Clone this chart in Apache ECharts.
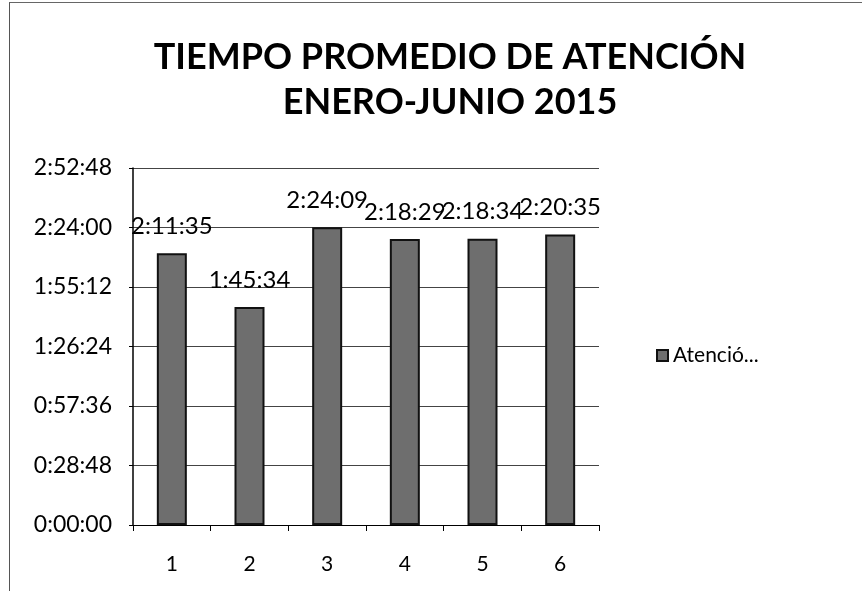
<!DOCTYPE html>
<html>
<head>
<meta charset="utf-8">
<script src="https://cdn.jsdelivr.net/npm/echarts@6/dist/echarts.min.js"></script>
<style>
  html, body { margin: 0; padding: 0; background: #fff; }
  #chart { width: 862px; height: 592px; }
  #frame {
    position: absolute; left: 9px; top: 2px; width: 860px; height: 588px;
    border-left: 1px solid #555; border-top: 1px solid #666;
    pointer-events: none;
  }
</style>
</head>
<body>
<div id="chart"></div>
<div id="frame"></div>
<script>
// meses 1..6, tiempo promedio en segundos
const categories = ["1", "2", "3", "4", "5", "6"];
const tiempos = [7895, 6334, 8649, 8309, 8314, 8435]; // 2:11:35, 1:45:34, 2:24:09, 2:18:29, 2:18:34, 2:20:35
const yMax = 10368; // 2:52:48
const yStep = 1728; // 0:28:48

function hms(sec) {
  const h = Math.floor(sec / 3600);
  const m = Math.floor((sec % 3600) / 60);
  const s = Math.round(sec % 60);
  return h + ":" + String(m).padStart(2, "0") + ":" + String(s).padStart(2, "0");
}

const chart = echarts.init(document.getElementById("chart"), null, { renderer: "canvas" });
chart.setOption({
  animation: false,
  textStyle: { fontFamily: "Lato, 'Open Sans', sans-serif", color: "#000" },
  title: {
    text: "TIEMPO PROMEDIO DE ATENCIÓN\nENERO-JUNIO 2015",
    left: 445,
    textAlign: "center",
    top: 30,
    textStyle: {
      fontFamily: "Lato, 'Open Sans', sans-serif",
      fontSize: 36,
      fontWeight: "bold",
      color: "#000",
      lineHeight: 45,
    },
  },
  legend: {
    data: ["Atención"],
    left: 651,
    top: 340,
    itemWidth: 11,
    itemHeight: 11,
    itemGap: 4,
    icon: "rect",
    formatter: () => "Atenció...",
    textStyle: { fontSize: 21, color: "#000" },
  },
  grid: { left: 133, right: 263, top: 168, bottom: 67 },
  xAxis: {
    type: "category",
    data: categories,
    axisLine: { lineStyle: { color: "#000", width: 1 } },
    axisTick: { show: true, length: 6, lineStyle: { color: "#000" } },
    axisLabel: { fontSize: 21, color: "#000", margin: 29 },
  },
  yAxis: {
    type: "value",
    min: 0,
    max: yMax,
    interval: yStep,
    axisLine: { show: true, lineStyle: { color: "#000", width: 1.5 } },
    axisTick: { show: true, length: 4, lineStyle: { color: "#000" } },
    axisLabel: { fontSize: 23, color: "#000", margin: 21, formatter: (v) => hms(v) },
    splitLine: { lineStyle: { color: "#444", width: 1 } },
  },
  series: [
    {
      name: "Atención",
      type: "bar",
      data: tiempos,
      barWidth: 30,
      itemStyle: { color: "#6e6e6e", borderColor: "#111", borderWidth: 2 },
      label: {
        show: true,
        position: "top",
        distance: 15,
        fontSize: 24,
        color: "#000",
        formatter: (p) => hms(p.value),
      },
    },
  ],
});
</script>
</body>
</html>
